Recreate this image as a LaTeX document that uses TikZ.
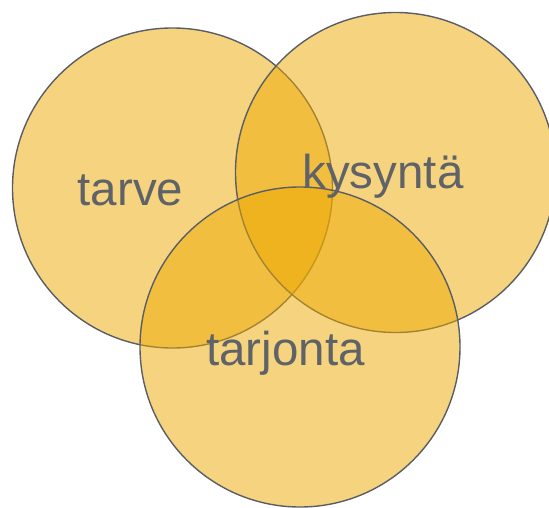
\documentclass[tikz,border=0pt]{standalone}
\usepackage{fontspec}
\setmainfont{Liberation Sans}
\definecolor{gold}{RGB}{237,169,0}
\definecolor{edge}{RGB}{90,94,100}
\definecolor{txt}{RGB}{95,99,104}
\begin{document}
\begin{tikzpicture}[x=1pt,y=-1pt,
  venn/.style={circle,minimum size=320pt,inner sep=0pt,fill=gold,fill opacity=0.5,draw=edge,draw opacity=1,line width=1.4pt},
  lbl/.style={anchor=base,inner sep=0pt,text=txt,font=\fontsize{47.5}{52}\selectfont}]
\useasboundingbox (0,0) rectangle (549,508);
\begin{scope}
\clip (0,0) rectangle (549,508);
\node[venn] (c1) at (172.5,188) {};
\node[venn] (c2) at (395.5,172.5) {};
\node[venn] (c3) at (300,347) {};
\end{scope}
\node[lbl] (t1) at (130.5,205) {tarve};
\node[lbl] (t2) at (383,188) {kysyntä};
\node[lbl] (t3) at (285.5,365) {tarjonta};
\end{tikzpicture}
\end{document}
